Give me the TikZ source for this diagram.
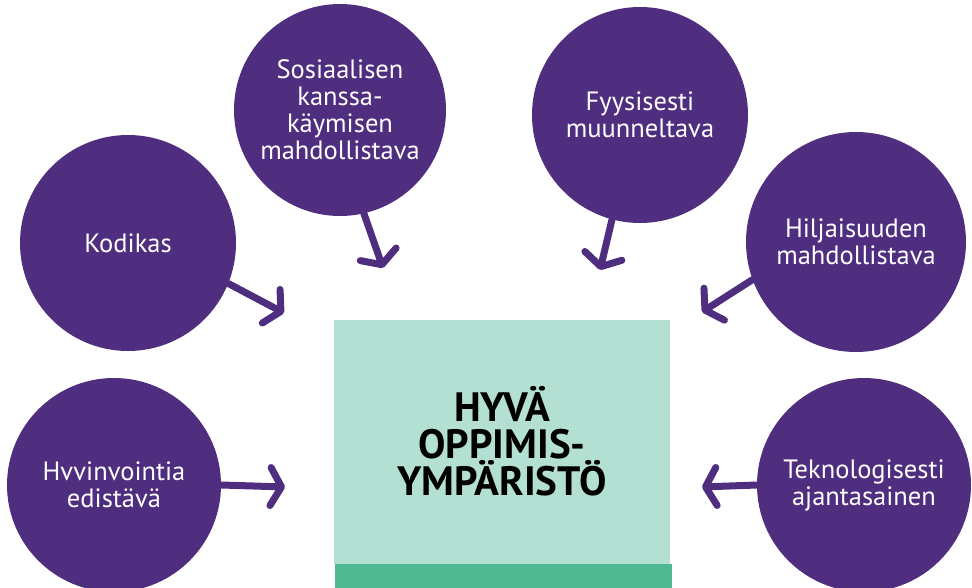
\documentclass[tikz,border=0pt]{standalone}
\usepackage{fontspec}
\setmainfont{PT Sans}
\usetikzlibrary{arrows.meta}
\definecolor{purp}{HTML}{4F2D7F}
\definecolor{lightg}{HTML}{B3E0D2}
\definecolor{darkg}{HTML}{4FB792}
\begin{document}
\begin{tikzpicture}[x=1pt,y=-1pt,
  bubble/.style={circle,fill=purp,text=white,minimum size=216pt,inner sep=0pt,align=center,font=\fontsize{26.5}{27}\selectfont},
  link/.style={draw=purp,line width=7pt,line cap=round,-{Straight Barb[length=11pt,width=38pt,line width=7pt,line cap=round,line join=round]}}]
\useasboundingbox (0,0) rectangle (972,588);
\fill[lightg] (334,320) rectangle (670,564);
\fill[darkg] (335,564) rectangle (672,588);
\node[font=\fontsize{41}{37}\selectfont\bfseries,align=center] (main) at (502,441) {HYVÄ\\OPPIMIS-\\YMPÄRISTÖ};
\node[bubble] (b1) at (128,243) {Kodikas};
\node[bubble,minimum size=212pt] (b2) at (340,110) {Sosiaalisen\\kanssa-\\käymisen\\mahdollistava};
\node[bubble] (b3) at (640,115) {Fyysisesti\\muunneltava};
\node[bubble,minimum size=220pt] (b4) at (856,242) {Hiljaisuuden\\mahdollistava};
\node[bubble,minimum size=214pt] (b5) at (114,485) {Hvvinvointia\\edistävä};
\node[bubble,minimum size=214pt] (b6) at (864,485) {Teknologisesti\\ajantasainen};
\coordinate (t1) at (284,313);
\coordinate (t2) at (383,268);
\coordinate (t3) at (600,270);
\coordinate (t4) at (702,312);
\coordinate (t5) at (285,487);
\coordinate (t6) at (702,487);
\draw[link] (b1.-22) -- (t1);
\draw[link] (b2.-77) -- (t2);
\draw[link] (b3.-105) -- (t3);
\draw[link] (b4.-160) -- (t4);
\draw[link] (b5.east) -- (t5);
\draw[link] (b6.west) -- (t6);
\end{tikzpicture}
\end{document}
